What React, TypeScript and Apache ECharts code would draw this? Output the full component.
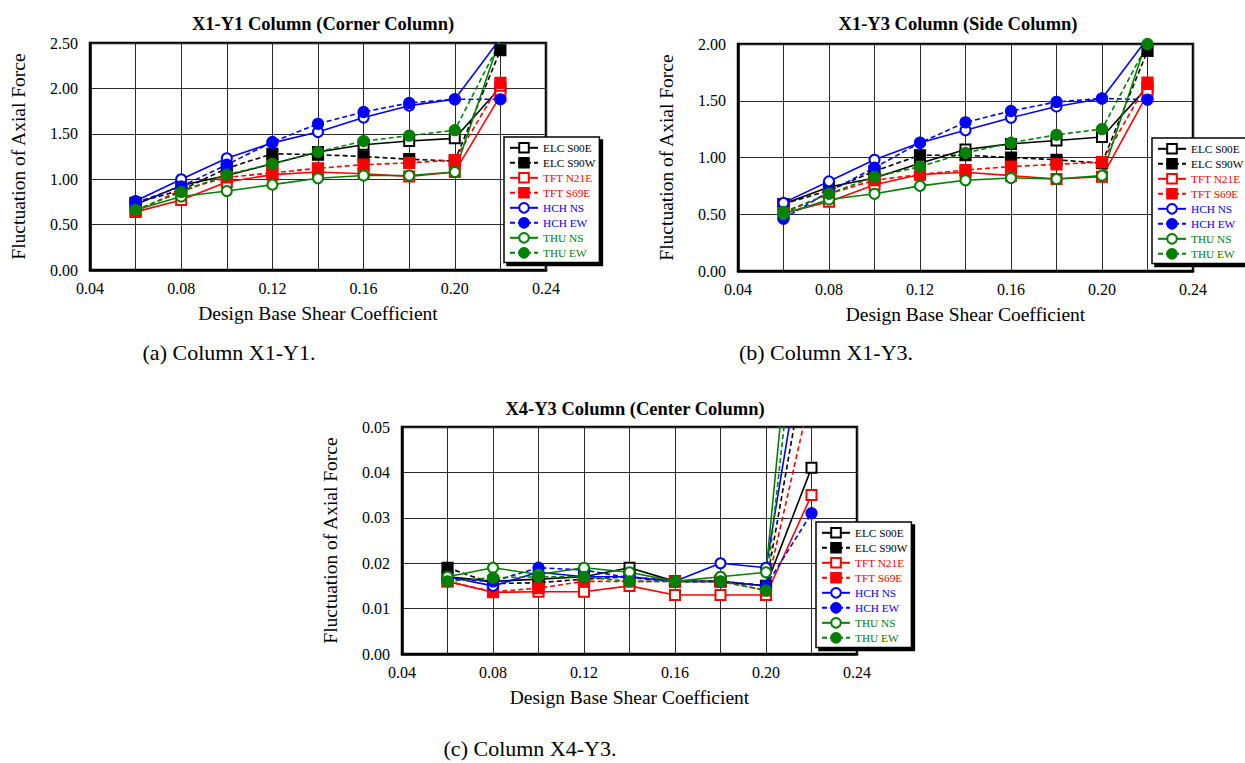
import React, { useEffect, useRef } from "react";
import * as echarts from "echarts";

const xValues = [0.06, 0.08, 0.1, 0.12, 0.14, 0.16, 0.18, 0.2, 0.22];
const seriesNames = ["ELC S00E", "ELC S90W", "TFT N21E", "TFT S69E", "HCH NS", "HCH EW", "THU NS", "THU EW"];

// (a) X1-Y1 corner column
const cornerELCS00E = [0.72, 0.93, 1.04, 1.17, 1.3, 1.38, 1.42, 1.45, 2.01];
const cornerELCS90W = [0.74, 0.88, 1.12, 1.28, 1.27, 1.25, 1.22, 1.2, 2.42];
const cornerTFTN21E = [0.64, 0.77, 0.97, 1.05, 1.08, 1.06, 1.03, 1.08, 1.92];
const cornerTFTS69E = [0.65, 0.88, 1.02, 1.07, 1.12, 1.16, 1.18, 1.21, 2.06];
const cornerHCHNS = [0.76, 1.0, 1.23, 1.4, 1.52, 1.68, 1.81, 1.88, 2.55];
const cornerHCHEW = [0.74, 0.92, 1.16, 1.41, 1.61, 1.74, 1.84, 1.88, 1.88];
const cornerTHUNS = [0.66, 0.81, 0.87, 0.94, 1.01, 1.04, 1.04, 1.08, 2.56];
const cornerTHUEW = [0.66, 0.86, 1.05, 1.17, 1.3, 1.42, 1.48, 1.54, 2.52];

// (b) X1-Y3 side column
const sideELCS00E = [0.59, 0.74, 0.82, 0.95, 1.07, 1.12, 1.15, 1.18, 1.62];
const sideELCS90W = [0.59, 0.71, 0.88, 1.02, 1.02, 1.0, 0.98, 0.95, 1.94];
const sideTFTN21E = [0.51, 0.61, 0.76, 0.85, 0.87, 0.84, 0.81, 0.83, 1.56];
const sideTFTS69E = [0.51, 0.68, 0.8, 0.85, 0.89, 0.92, 0.94, 0.96, 1.66];
const sideHCHNS = [0.6, 0.79, 0.98, 1.13, 1.24, 1.35, 1.45, 1.52, 2.05];
const sideHCHEW = [0.46, 0.7, 0.91, 1.13, 1.31, 1.41, 1.49, 1.52, 1.51];
const sideTHUNS = [0.5, 0.63, 0.68, 0.75, 0.8, 0.82, 0.81, 0.84, 2.05];
const sideTHUEW = [0.52, 0.68, 0.83, 0.92, 1.04, 1.13, 1.2, 1.25, 2.0];

// (c) X4-Y3 center column
const centerELCS00E = [0.017, 0.016, 0.0165, 0.017, 0.019, 0.016, 0.016, 0.015, 0.041];
const centerELCS90W = [0.019, 0.0155, 0.0157, 0.0165, 0.017, 0.016, 0.016, 0.015, 0.072];
const centerTFTN21E = [0.016, 0.0136, 0.0137, 0.0137, 0.015, 0.013, 0.013, 0.013, 0.035];
const centerTFTS69E = [0.016, 0.0137, 0.0145, 0.016, 0.016, 0.016, 0.016, 0.014, 0.058];
const centerHCHNS = [0.017, 0.015, 0.018, 0.017, 0.017, 0.016, 0.02, 0.019, 0.08];
const centerHCHEW = [0.0165, 0.016, 0.019, 0.0185, 0.0168, 0.016, 0.016, 0.015, 0.031];
const centerTHUNS = [0.017, 0.019, 0.0175, 0.019, 0.018, 0.016, 0.017, 0.018, 0.122];
const centerTHUEW = [0.016, 0.0168, 0.017, 0.017, 0.016, 0.016, 0.016, 0.014, 0.105];

const chartTitles = ["X1-Y1 Column (Corner Column)", "X1-Y3 Column (Side Column)", "X4-Y3 Column (Center Column)"];
const captions = ["(a) Column X1-Y1.", "(b) Column X1-Y3.", "(c) Column X4-Y3."];
const yMaxes = [2.5, 2.0, 0.05];
const yIntervals = [0.5, 0.5, 0.01];

const cornerData = [cornerELCS00E, cornerELCS90W, cornerTFTN21E, cornerTFTS69E, cornerHCHNS, cornerHCHEW, cornerTHUNS, cornerTHUEW];
const sideData = [sideELCS00E, sideELCS90W, sideTFTN21E, sideTFTS69E, sideHCHNS, sideHCHEW, sideTHUNS, sideTHUEW];
const centerData = [centerELCS00E, centerELCS90W, centerTFTN21E, centerTFTS69E, centerHCHNS, centerHCHEW, centerTHUNS, centerTHUEW];

const SERIF = "Liberation Serif";
const colors = ["#000000", "#000000", "#ff0000", "#ff0000", "#0000ff", "#0000ff", "#008000", "#008000"];
const symbols = ["emptyRect", "rect", "emptyRect", "rect", "emptyCircle", "circle", "emptyCircle", "circle"];
const dashed = [false, true, false, true, false, true, false, true];

const grids = [
  { left: 90, top: 43, width: 456, height: 227 },
  { left: 738, top: 44, width: 455, height: 227 },
  { left: 402, top: 427, width: 455, height: 227 },
];
const legendPos = [
  { left: 504, top: 137 },
  { left: 1152, top: 138 },
  { left: 816, top: 522 },
];
const titlePos = [
  { x: 318, y: 9 },
  { x: 953, y: 9 },
  { x: 630, y: 394 },
];
const captionPos = [
  { x: 229, y: 352 },
  { x: 826, y: 352 },
  { x: 530, y: 748 },
];

export default function App() {
  const ref = useRef<HTMLDivElement>(null);
  useEffect(() => {
    if (!ref.current) return;
    const chart = echarts.init(ref.current, undefined, { renderer: "svg" });
    const allData = [cornerData, sideData, centerData];

    const series: any[] = [];
    allData.forEach((chartData, gi) => {
      chartData.forEach((vals, si) => {
        series.push({
          type: "line",
          name: seriesNames[si],
          xAxisIndex: gi,
          yAxisIndex: gi,
          data: vals.map((v, i) => [xValues[i], v]),
          symbol: symbols[si],
          symbolSize: si % 2 === 1 ? 11 : 10,
          clip: true,
          lineStyle: { color: colors[si], width: 1.6, type: dashed[si] ? [5, 3] : "solid" },
          itemStyle: { color: colors[si], borderColor: colors[si], borderWidth: 1.2 },
          z: 3,
        });
      });
    });

    const xAxes = grids.map((_, gi) => ({
      type: "value",
      gridIndex: gi,
      min: 0.04,
      max: 0.24,
      interval: 0.02,
      name: "Design Base Shear Coefficient",
      nameLocation: "middle",
      nameGap: 33,
      nameTextStyle: { fontFamily: SERIF, fontSize: 19.5, color: "#000" },
      axisLine: { show: true, onZero: false, lineStyle: { color: "#000", width: 2.5 } },
      axisTick: { show: false },
      splitLine: { show: true, lineStyle: { color: "#2a2a2a", width: 1 } },
      axisLabel: {
        fontFamily: SERIF,
        fontSize: 16,
        color: "#000",
        margin: 10,
        formatter: (v: number) => (Math.round(v * 100) % 4 === 0 ? v.toFixed(2) : ""),
      },
    }));

    const yAxes = grids.map((_, gi) => ({
      type: "value",
      gridIndex: gi,
      min: 0,
      max: yMaxes[gi],
      interval: yIntervals[gi],
      name: "Fluctuation of Axial Force",
      nameLocation: "middle",
      nameGap: 62,
      nameRotate: 90,
      nameTextStyle: { fontFamily: SERIF, fontSize: 19.5, color: "#000" },
      axisLine: { show: true, onZero: false, lineStyle: { color: "#000", width: 2.5 } },
      axisTick: { show: false },
      splitLine: { show: true, lineStyle: { color: "#2a2a2a", width: 1 } },
      axisLabel: {
        fontFamily: SERIF,
        fontSize: 16,
        color: "#000",
        margin: 12,
        formatter: (v: number) => v.toFixed(2),
      },
    }));

    const legends = legendPos.map((p) => ({
      orient: "vertical",
      left: p.left,
      top: p.top,
      padding: [5, 4, 4, 5],
      itemWidth: 28,
      itemHeight: 12,
      itemGap: 3.4,
      backgroundColor: "#fff",
      borderColor: "#000",
      borderWidth: 1.5,
      shadowColor: "#000",
      shadowBlur: 0,
      shadowOffsetX: 3,
      shadowOffsetY: 3,
      selectedMode: false,
      textStyle: { fontFamily: SERIF, fontSize: 11.3 },
      data: seriesNames.map((n, i) => ({ name: n, textStyle: { color: colors[i] } })),
      z: 10,
    }));

    const titles = titlePos.map((p, gi) => ({
      text: chartTitles[gi],
      left: p.x,
      top: p.y,
      textAlign: "center",
      textStyle: { fontFamily: SERIF, fontSize: 18.5, fontWeight: "bold", color: "#000" },
    }));

    chart.setOption({
      animation: false,
      backgroundColor: "#fff",
      textStyle: { fontFamily: SERIF },
      title: titles,
      grid: grids.map((g) => ({ ...g, show: true, borderColor: "#000", borderWidth: 2.5, backgroundColor: "transparent" })),
      xAxis: xAxes,
      yAxis: yAxes,
      legend: legends,
      series,
      graphic: captionPos.map((c, i) => ({
        type: "text",
        x: c.x,
        y: c.y,
        style: {
          text: captions[i],
          fontFamily: SERIF,
          fontSize: 22,
          fill: "#000",
          textAlign: "center",
          textVerticalAlign: "middle",
        },
      })),
    });
    return () => chart.dispose();
  }, []);
  return <div ref={ref} style={{ position: "fixed", left: 0, top: 0, width: 1245, height: 763 }} />;
}
